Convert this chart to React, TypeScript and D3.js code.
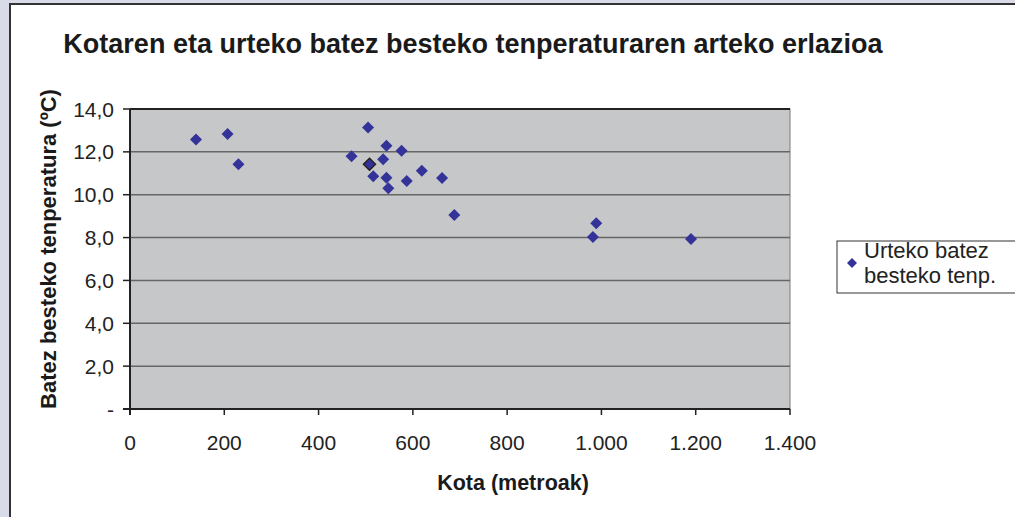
import React from "react";
import * as d3 from "d3";

const altitudes = [140, 207, 230, 470, 505, 508, 516, 537, 544, 544, 548, 576, 587, 619, 662, 688, 982, 989, 1190];
const temperatures = [12.58, 12.83, 11.42, 11.8, 13.14, 11.42, 10.86, 11.65, 12.29, 10.79, 10.3, 12.05, 10.64, 11.12, 10.78, 9.05, 8.03, 8.67, 7.93];
const yTicks = [0, 2, 4, 6, 8, 10, 12, 14];
const yTickLabels = ["-", "2,0", "4,0", "6,0", "8,0", "10,0", "12,0", "14,0"];
const xTicks = [0, 200, 400, 600, 800, 1000, 1200, 1400];
const xTickLabels = ["0", "200", "400", "600", "800", "1.000", "1.200", "1.400"];
const seriesName = ["Urteko batez", "besteko tenp."];
const title = "Kotaren eta urteko batez besteko tenperaturaren arteko erlazioa";
const xTitle = "Kota (metroak)";
const yTitle = "Batez besteko tenperatura (ºC)";
const highlighted = 5;

const W = 1015;
const H = 517;
const plot = { left: 130, right: 790, top: 109, bottom: 409 };
const font = "'Liberation Sans', Arial, sans-serif";
const navy = "#333399";

export default function App() {
  const x = d3.scaleLinear().domain([0, 1400]).range([plot.left, plot.right]);
  const y = d3.scaleLinear().domain([0, 14]).range([plot.bottom, plot.top]);
  const diamond = (cx: number, cy: number, r: number) =>
    `M${cx},${cy - r}L${cx + r},${cy}L${cx},${cy + r}L${cx - r},${cy}Z`;

  return (
    <>
      <style>{`body{margin:0}`}</style>
      <svg width={W} height={H} style={{ display: "block" }} fontFamily={font}>
        <rect x={0} y={0} width={W} height={H} fill="#d9dbe9" />
        <rect x={10} y={4} width={W + 20} height={H + 20} fill="#ffffff" stroke="#333333" strokeWidth={2} />
        <text x={473} y={53} textAnchor="middle" fontSize={27} fontWeight="bold" fill="#1a1a1a">
          {title}
        </text>
        <rect x={plot.left} y={plot.top} width={plot.right - plot.left} height={plot.bottom - plot.top} fill="#c6c7c9" stroke="#7a7a7a" strokeWidth={1} />
        {yTicks.filter((t) => t > 0).map((t) => (
          <line key={"g" + t} x1={plot.left} x2={plot.right} y1={y(t)} y2={y(t)} stroke={t === 14 ? "#222" : "#666"} strokeWidth={t === 14 ? 2 : 1.5} />
        ))}
        <line x1={plot.left} x2={plot.left} y1={plot.top} y2={plot.bottom + 6} stroke="#222" strokeWidth={2} />
        <line x1={plot.left - 7} x2={plot.right} y1={plot.bottom} y2={plot.bottom} stroke="#222" strokeWidth={2} />
        {yTicks.map((t, i) => (
          <g key={"y" + t}>
            <line x1={plot.left - 7} x2={plot.left} y1={y(t)} y2={y(t)} stroke="#222" strokeWidth={1.5} />
            <text x={114} y={y(t)} dy="0.36em" textAnchor="end" fontSize={21} fill="#222">
              {yTickLabels[i]}
            </text>
          </g>
        ))}
        {xTicks.map((t, i) => (
          <g key={"x" + t}>
            <line x1={x(t)} x2={x(t)} y1={plot.bottom} y2={plot.bottom + 6} stroke="#222" strokeWidth={1.5} />
            <text x={x(t)} y={450} textAnchor="middle" fontSize={21} fill="#222">
              {xTickLabels[i]}
            </text>
          </g>
        ))}
        <text x={513} y={490} textAnchor="middle" fontSize={21.5} fontWeight="bold" fill="#1a1a1a">
          {xTitle}
        </text>
        <text transform={`translate(56,249) rotate(-90)`} textAnchor="middle" fontSize={22} fontWeight="bold" fill="#1a1a1a">
          {yTitle}
        </text>
        {altitudes.map((a, i) => (
          <path
            key={"p" + i}
            d={diamond(x(a), y(temperatures[i]), 6)}
            fill={navy}
            stroke={i === highlighted ? "#222" : "none"}
            strokeWidth={1.5}
          />
        ))}
        <rect x={837} y={241} width={200} height={52} fill="#ffffff" stroke="#333" strokeWidth={1} />
        <path d={diamond(852, 263, 5)} fill={navy} />
        <text x={864} y={258} fontSize={22} fill="#222">{seriesName[0]}</text>
        <text x={864} y={283} fontSize={22} fill="#222">{seriesName[1]}</text>
      </svg>
    </>
  );
}
